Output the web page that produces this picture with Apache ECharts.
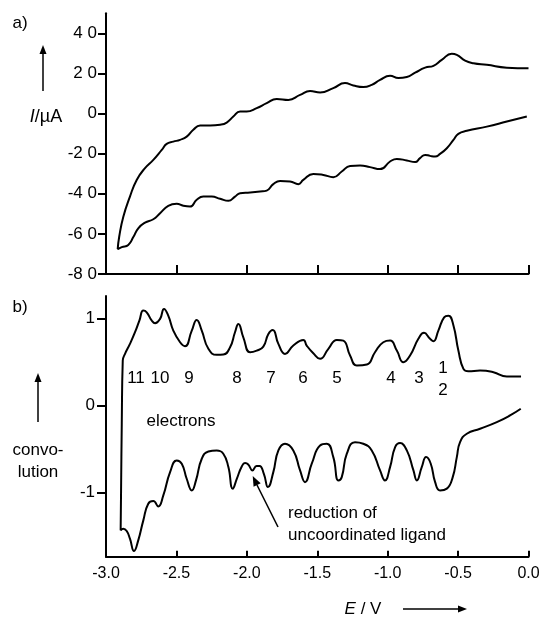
<!DOCTYPE html>
<html>
<head>
<meta charset="utf-8">
<script src="https://cdn.jsdelivr.net/npm/echarts@6/dist/echarts.min.js"></script>
<style>
  html, body { margin: 0; padding: 0; background: #fff; }
  #main { width: 543px; height: 617px; }
</style>
</head>
<body>
<div id="main"></div>
<script>
// a) cyclic voltammogram, lower branch (scan towards -3 V), listed by increasing E
const cvLowerE = [-2.917, -2.888, -2.842, -2.806, -2.771, -2.723, -2.664, -2.616, -2.558, -2.498,
  -2.451, -2.403, -2.356, -2.309, -2.249, -2.190, -2.131, -2.084, -2.048, -1.977,
  -1.906, -1.859, -1.812, -1.764, -1.693, -1.634, -1.599, -1.528, -1.457, -1.386,
  -1.326, -1.267, -1.196, -1.125, -1.054, -0.983, -0.935, -0.864, -0.805, -0.770,
  -0.734, -0.699, -0.663, -0.628, -0.580, -0.533, -0.498, -0.438, -0.296, -0.154, -0.012]
const cvLowerI = [-67.6, -66.6, -65.5, -61.6, -57.2, -54.4, -52.7, -49.7, -46.0, -45.0,
  -46.0, -46.4, -43.0, -41.4, -41.4, -42.5, -43.5, -41.4, -39.7, -39.4,
  -38.9, -38.4, -35.2, -33.6, -33.9, -35.2, -33.1, -30.1, -30.6, -31.7,
  -28.9, -26.1, -25.9, -26.7, -27.7, -23.9, -22.6, -23.4, -24.2, -22.2,
  -20.6, -21.1, -21.4, -20.1, -17.3, -13.1, -10.1, -8.6, -6.5, -4.0, -1.5]
// upper branch (return scan back to 0 V)
const cvUpperE = [-2.906, -2.877, -2.830, -2.782, -2.723, -2.664, -2.604, -2.569, -2.522, -2.474,
  -2.427, -2.380, -2.332, -2.261, -2.190, -2.143, -2.096, -2.048, -2.001, -1.930,
  -1.859, -1.788, -1.705, -1.622, -1.551, -1.480, -1.386, -1.303, -1.244, -1.173,
  -1.113, -1.054, -0.983, -0.924, -0.864, -0.805, -0.734, -0.675, -0.616, -0.545,
  -0.509, -0.450, -0.391, -0.296, -0.154, 0.000]
const cvUpperI = [-61.3, -51.4, -41.4, -33.1, -27.2, -23.1, -18.1, -15.1, -14.0, -13.1,
  -11.5, -8.1, -6.0, -6.0, -5.6, -4.5, -1.5, 1.0, 1.0, 2.7,
  5.2, 7.3, 6.8, 9.3, 11.2, 10.5, 12.7, 15.2, 14.0, 13.2,
  14.3, 16.8, 18.8, 17.7, 18.2, 20.4, 22.9, 23.8, 26.8, 29.8,
  29.3, 26.4, 25.1, 24.3, 22.9, 22.6]

// b) convolution, lower curve by increasing E
const convLowerE = [-2.896, -2.877, -2.853, -2.830, -2.801, -2.771, -2.735, -2.700, -2.664, -2.629,
  -2.593, -2.545, -2.498, -2.462, -2.427, -2.391, -2.361, -2.320, -2.273, -2.214,
  -2.167, -2.131, -2.100, -2.070, -2.036, -2.013, -1.990, -1.960, -1.931, -1.910,
  -1.878, -1.850, -1.812, -1.776, -1.729, -1.670, -1.622, -1.587, -1.539, -1.480,
  -1.432, -1.386, -1.350, -1.326, -1.290, -1.232, -1.173, -1.113, -1.054, -1.019,
  -0.983, -0.947, -0.912, -0.864, -0.817, -0.793, -0.758, -0.727, -0.694, -0.663,
  -0.628, -0.580, -0.538, -0.509, -0.486, -0.438, -0.344, -0.225, -0.131, -0.055]
const convLowerY = [-1.437, -1.417, -1.445, -1.532, -1.675, -1.552, -1.322, -1.130, -1.100, -1.161,
  -1.034, -0.767, -0.632, -0.670, -0.843, -0.977, -0.862, -0.613, -0.529, -0.517,
  -0.555, -0.709, -0.957, -0.839, -0.701, -0.663, -0.678, -0.747, -0.695, -0.695,
  -0.793, -0.939, -0.767, -0.517, -0.440, -0.517, -0.747, -0.882, -0.670, -0.460,
  -0.440, -0.594, -0.862, -0.824, -0.555, -0.422, -0.440, -0.517, -0.747, -0.862,
  -0.709, -0.479, -0.433, -0.517, -0.747, -0.862, -0.709, -0.594, -0.670, -0.882,
  -0.977, -0.957, -0.824, -0.594, -0.422, -0.325, -0.268, -0.192, -0.115, -0.038]
// upper curve
const convUpperE = [-2.893, -2.888, -2.881, -2.865, -2.830, -2.794, -2.763, -2.735, -2.711, -2.675,
  -2.652, -2.616, -2.588, -2.558, -2.522, -2.474, -2.439, -2.391, -2.356, -2.320,
  -2.273, -2.214, -2.167, -2.119, -2.084, -2.060, -2.025, -1.977, -1.930, -1.883,
  -1.847, -1.816, -1.776, -1.729, -1.670, -1.599, -1.575, -1.528, -1.480, -1.421,
  -1.361, -1.315, -1.267, -1.219, -1.148, -1.090, -1.031, -0.983, -0.935, -0.888,
  -0.841, -0.782, -0.742, -0.699, -0.675, -0.640, -0.599, -0.569, -0.533, -0.498,
  -0.462, -0.427, -0.344, -0.249, -0.154, -0.053]
const convUpperY = [-0.977, -0.210, 0.517, 0.594, 0.709, 0.843, 0.977, 1.092, 1.072, 0.977,
  0.946, 0.997, 1.111, 1.034, 0.862, 0.728, 0.682, 0.862, 0.985, 0.862,
  0.652, 0.583, 0.586, 0.670, 0.843, 0.939, 0.785, 0.613, 0.632, 0.678,
  0.824, 0.870, 0.709, 0.594, 0.690, 0.755, 0.690, 0.601, 0.537, 0.652,
  0.755, 0.747, 0.575, 0.460, 0.471, 0.613, 0.728, 0.747, 0.632, 0.498,
  0.575, 0.767, 0.836, 0.767, 0.739, 0.862, 1.015, 1.034, 0.920, 0.632,
  0.422, 0.394, 0.402, 0.383, 0.333, 0.333]

// tick labels
const yTicksA = [-80, -60, -40, -20, 0, 20, 40]
const yTicksB = [-1, 0, 1]
const electronNumbers = ['11', '10', '9', '8', '7', '6', '5', '4', '3']

const font = "'Liberation Sans', Arial, sans-serif"
const pairs = (xs, ys) => xs.map((x, i) => [x, ys[i]])
// one path each: go left along the lower branch, come back along the upper one
const cvLoop = pairs(cvLowerE, cvLowerI).reverse().concat(pairs(cvUpperE, cvUpperI))
const convLoop = pairs(convLowerE, convLowerY).reverse().concat(pairs(convUpperE, convUpperY))

const black = { color: '#000', width: 2 }
const spaced = v => (v < 0 ? '-' : '') + String(Math.abs(v)).split('').join(' ')

const txt = (text, x, y, extra) => ({
  type: 'text', x: x, y: y, silent: true,
  style: Object.assign({ text: text, fill: '#000', fontSize: 17, fontFamily: font, align: 'center', verticalAlign: 'middle' }, extra || {})
})
const upArrow = (x, yTop, yBottom) => [
  { type: 'line', silent: true, shape: { x1: x, y1: yBottom, x2: x, y2: yTop + 7 }, style: { stroke: '#000', lineWidth: 1.5 } },
  { type: 'polygon', silent: true, shape: { points: [[x, yTop], [x - 3.5, yTop + 9], [x + 3.5, yTop + 9]] }, style: { fill: '#000' } }
]

const numberX = [136, 160, 189, 237, 271, 303, 337, 391, 419]

const chart = echarts.init(document.getElementById('main'))
chart.setOption({
  animation: false,
  backgroundColor: '#fff',
  grid: [
    { left: 106, right: 14.5, top: 13.3, height: 260.7 },
    { left: 106, right: 14.5, top: 296, height: 260.7 }
  ],
  xAxis: [
    {
      gridIndex: 0, type: 'value', min: -3, max: 0, interval: 0.5,
      axisLine: { onZero: false, lineStyle: black },
      axisTick: { inside: true, length: 9, lineStyle: black },
      axisLabel: { show: false },
      splitLine: { show: false }
    },
    {
      gridIndex: 1, type: 'value', min: -3, max: 0, interval: 0.5,
      axisLine: { onZero: false, lineStyle: black },
      axisTick: { inside: true, length: 6, lineStyle: black },
      axisLabel: { color: '#000', fontSize: 16, fontFamily: font, margin: 9, formatter: v => v.toFixed(1) },
      splitLine: { show: false }
    }
  ],
  yAxis: [
    {
      gridIndex: 0, type: 'value', min: -80, max: 50,
      axisLine: { show: true, onZero: false, lineStyle: black },
      axisTick: { show: true, length: 8, lineStyle: black, customValues: yTicksA },
      axisLabel: { color: '#000', fontSize: 17, fontFamily: font, margin: 9, customValues: yTicksA, formatter: spaced },
      splitLine: { show: false }
    },
    {
      gridIndex: 1, type: 'value', min: -1.74, max: 1.26,
      axisLine: { show: true, onZero: false, lineStyle: black },
      axisTick: { show: true, length: 9, lineStyle: black, customValues: yTicksB },
      axisLabel: { color: '#000', fontSize: 17, fontFamily: font, margin: 11, customValues: yTicksB },
      splitLine: { show: false }
    }
  ],
  series: [
    {
      type: 'line', xAxisIndex: 0, yAxisIndex: 0, data: cvLoop,
      symbol: 'none', smooth: 0.5, silent: true,
      lineStyle: { color: '#000', width: 2 }
    },
    {
      type: 'line', xAxisIndex: 1, yAxisIndex: 1, data: convLoop,
      symbol: 'none', smooth: 0.5, silent: true,
      lineStyle: { color: '#000', width: 2 }
    }
  ],
  graphic: [
    txt('a)', 20, 23),
    txt('b)', 20, 307),
    ...upArrow(43, 45, 91),
    txt('{i|I}/µA', 46, 117, { fontSize: 18, rich: { i: { fontStyle: 'italic', fontSize: 18, fontFamily: font } } }),
    ...upArrow(38, 373, 422),
    txt('convo-', 38, 450),
    txt('lution', 38, 472),
    ...electronNumbers.map((n, i) => txt(n, numberX[i], 378)),
    txt('1', 443, 368),
    txt('2', 443, 390),
    txt('electrons', 181, 421),
    txt('reduction of', 288, 513, { align: 'left' }),
    txt('uncoordinated ligand', 288, 535, { align: 'left' }),
    { type: 'line', silent: true, shape: { x1: 278, y1: 527, x2: 257, y2: 485 }, style: { stroke: '#000', lineWidth: 1.5 } },
    { type: 'polygon', silent: true, shape: { points: [[252.7, 476], [260.7, 483.2], [253.6, 486.7]] }, style: { fill: '#000' } },
    txt('{i|E} / V', 363, 609, { fontSize: 17, rich: { i: { fontStyle: 'italic', fontSize: 17, fontFamily: font } } }),
    { type: 'line', silent: true, shape: { x1: 403, y1: 609, x2: 460, y2: 609 }, style: { stroke: '#000', lineWidth: 1.5 } },
    { type: 'polygon', silent: true, shape: { points: [[467, 609], [458, 605.5], [458, 612.5]] }, style: { fill: '#000' } }
  ]
})
</script>
</body>
</html>
